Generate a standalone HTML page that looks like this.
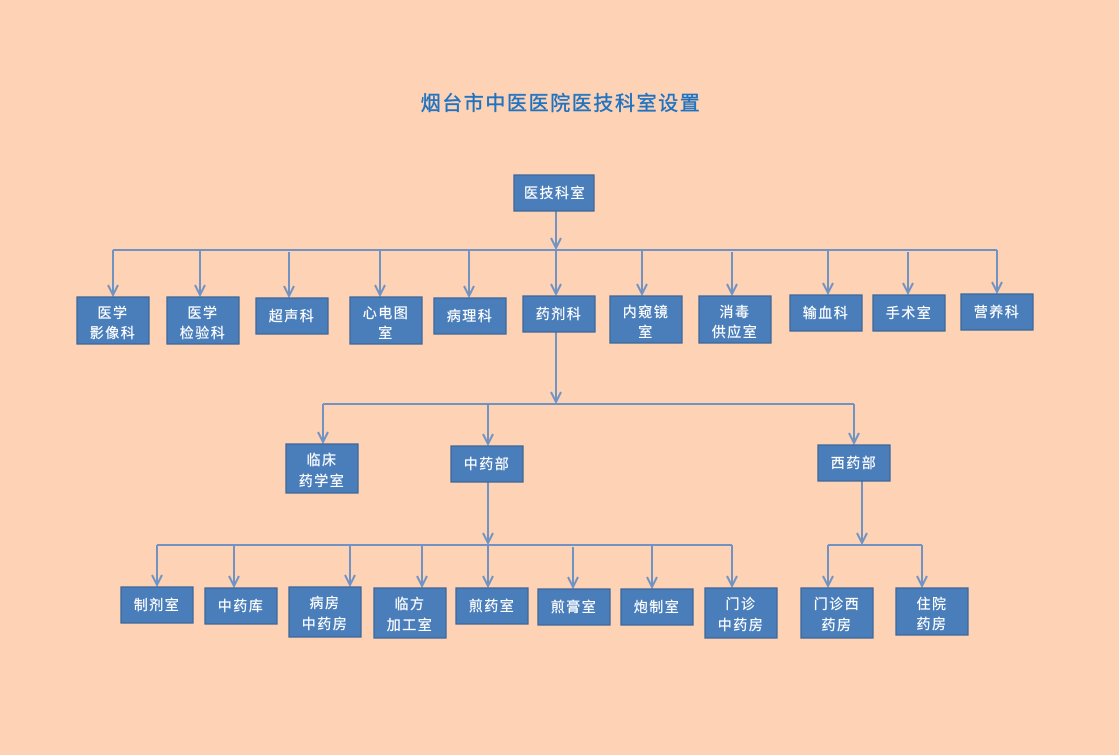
<!DOCTYPE html>
<html><head><meta charset="utf-8"><style>
html,body{margin:0;padding:0;background:#fed2b4;}
svg{display:block}
text{font-family:"Liberation Sans","Noto Sans CJK SC",sans-serif;}
.b{fill:#4a7ebb;stroke:#3c6797;stroke-width:1.3}
.t{fill:#fff;font-size:14px;text-anchor:middle;letter-spacing:1.5px;stroke:#fff;stroke-width:0.2}
.l{stroke:#7193c4;stroke-width:2;fill:none}
</style></head><body>
<svg width="1119" height="755" viewBox="0 0 1119 755">
<rect width="1119" height="755" fill="#fed2b4"/>
<text x="561" y="110" font-size="20" fill="#1f73c2" stroke="#1f73c2" stroke-width="0.4" text-anchor="middle" letter-spacing="1.6">烟台市中医医院医技科室设置</text>

<g class="l">
<path d="M556 211V248M113 250H997"/>
<path d="M113 250V295M200 250V295M289 252V296M380 250V295M469 250V296M556 250V294M642 250V294M732 252V294M828 250V293M908 252V293M997 250V292"/>
<path d="M556 332V402M323 404H854M323 404V442M488 404V444M854 404V443"/>
<path d="M488 482V543M157 545H732M157 545V585M234 545V586M350 545V585M422 545V586M488 545V586M573 547V587M652 545V587M732 545V586"/>
<path d="M862 481V543M828 545H922M828 545V586M922 545V586"/>
<path d="M551 238L556 248L561 238"/>
<path d="M108 285L113 295L118 285M195 285L200 295L205 285M284 286L289 296L294 286M375 285L380 295L385 285M464 286L469 296L474 286M551 284L556 294L561 284M637 284L642 294L647 284M727 284L732 294L737 284M823 283L828 293L833 283M903 283L908 293L913 283M992 282L997 292L1002 282"/>
<path d="M551 392L556 402L561 392M318 432L323 442L328 432M483 434L488 444L493 434M849 433L854 443L859 433"/>
<path d="M483 533L488 543L493 533M152 575L157 585L162 575M229 576L234 586L239 576M345 575L350 585L355 575M417 576L422 586L427 576M483 576L488 586L493 576M568 577L573 587L578 577M647 577L652 587L657 577M727 576L732 586L737 576"/>
<path d="M857 533L862 543L867 533M823 576L828 586L833 576M917 576L922 586L927 576"/>
</g>

<rect class="b" x="514" y="175" width="80" height="36"/><text class="t" x="555" y="198">医技科室</text>

<rect class="b" x="77" y="297" width="72" height="47"/><text class="t" x="113" y="318">医学</text><text class="t" x="113" y="338">影像科</text>
<rect class="b" x="167" y="297" width="72" height="47"/><text class="t" x="203" y="318">医学</text><text class="t" x="203" y="338">检验科</text>
<rect class="b" x="256" y="298" width="72" height="36"/><text class="t" x="292" y="321">超声科</text>
<rect class="b" x="350" y="297" width="72" height="47"/><text class="t" x="386" y="318">心电图</text><text class="t" x="386" y="338">室</text>
<rect class="b" x="434" y="298" width="72" height="36"/><text class="t" x="470" y="321">病理科</text>
<rect class="b" x="523" y="296" width="72" height="36"/><text class="t" x="559" y="319">药剂科</text>
<rect class="b" x="610" y="296" width="72" height="47"/><text class="t" x="646" y="317">内窥镜</text><text class="t" x="646" y="337">室</text>
<rect class="b" x="699" y="296" width="72" height="47"/><text class="t" x="735" y="317">消毒</text><text class="t" x="735" y="337">供应室</text>
<rect class="b" x="790" y="295" width="72" height="36"/><text class="t" x="826" y="318">输血科</text>
<rect class="b" x="873" y="295" width="72" height="36"/><text class="t" x="909" y="318">手术室</text>
<rect class="b" x="961" y="294" width="72" height="36"/><text class="t" x="997" y="317">营养科</text>

<rect class="b" x="286" y="444" width="72" height="49"/><text class="t" x="322" y="465">临床</text><text class="t" x="322" y="486">药学室</text>
<rect class="b" x="451" y="446" width="72" height="36"/><text class="t" x="487" y="469">中药部</text>
<rect class="b" x="818" y="445" width="72" height="36"/><text class="t" x="854" y="468">西药部</text>

<rect class="b" x="121" y="587" width="72" height="36"/><text class="t" x="157" y="610">制剂室</text>
<rect class="b" x="205" y="588" width="72" height="36"/><text class="t" x="241" y="611">中药库</text>
<rect class="b" x="289" y="587" width="72" height="50"/><text class="t" x="325" y="608">病房</text><text class="t" x="325" y="629">中药房</text>
<rect class="b" x="374" y="588" width="72" height="50"/><text class="t" x="410" y="609">临方</text><text class="t" x="410" y="630">加工室</text>
<rect class="b" x="456" y="588" width="72" height="36"/><text class="t" x="492" y="611">煎药室</text>
<rect class="b" x="538" y="589" width="72" height="36"/><text class="t" x="574" y="612">煎膏室</text>
<rect class="b" x="621" y="589" width="72" height="36"/><text class="t" x="657" y="612">炮制室</text>
<rect class="b" x="705" y="588" width="72" height="50"/><text class="t" x="741" y="609">门诊</text><text class="t" x="741" y="630">中药房</text>

<rect class="b" x="801" y="588" width="72" height="50"/><text class="t" x="837" y="609">门诊西</text><text class="t" x="837" y="630">药房</text>
<rect class="b" x="896" y="588" width="72" height="47"/><text class="t" x="932" y="609">住院</text><text class="t" x="932" y="629">药房</text>
</svg>
</body></html>
